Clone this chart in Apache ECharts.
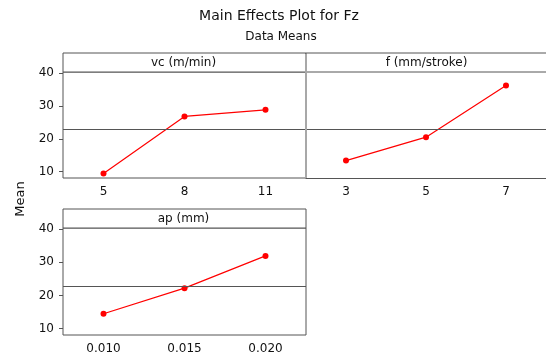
<!DOCTYPE html>
<html>
<head>
<meta charset="utf-8">
<script src="https://cdn.jsdelivr.net/npm/echarts@6/dist/echarts.min.js"></script>
<style>
  html, body { margin: 0; padding: 0; background: #fff; }
  #chart { width: 546px; height: 358px; }
</style>
</head>
<body>
<div id="chart"></div>
<script>
// factor levels and their data means
const vcLevels = ['5', '8', '11'];
const vcMeans = [9.5, 26.8, 28.8];
const fLevels = ['3', '5', '7'];
const fMeans = [13.4, 20.5, 36.2];
const apLevels = ['0.010', '0.015', '0.020'];
const apMeans = [14.5, 22.2, 31.9];
const grandMean = 22.8;
const yTicks = [10, 20, 30, 40];
const panelTitles = ['vc (m/min)', 'f (mm/stroke)', 'ap (mm)'];

const font = 'DejaVu Sans';
const frame = '#555';

const panels = [
  { left: 63, top: 72, width: 243, height: 106, cats: vcLevels, vals: vcMeans, showY: true, box: true },
  { left: 306, top: 72, width: 243, height: 106, cats: fLevels, vals: fMeans, showY: false, box: false },
  { left: 63, top: 228, width: 243, height: 107, cats: apLevels, vals: apMeans, showY: true, box: true },
];

const chart = echarts.init(document.getElementById('chart'));

const headerH = 19;
const graphic = [
  { type: 'text', x: 279, y: 16, style: { text: 'Main Effects Plot for Fz', font: '14px "' + font + '"', fill: '#111', align: 'center', verticalAlign: 'middle' } },
  { type: 'text', x: 281, y: 37, style: { text: 'Data Means', font: '12px "' + font + '"', fill: '#111', align: 'center', verticalAlign: 'middle' } },
  { type: 'text', x: 21, y: 199, rotation: Math.PI / 2, style: { text: 'Mean', font: '13px "' + font + '"', fill: '#111', align: 'center', verticalAlign: 'middle' } },
];
panels.forEach((p, i) => {
  graphic.push({
    type: 'rect', z: 10,
    shape: { x: p.left, y: p.top - headerH, width: p.box ? p.width : p.width + 20, height: headerH },
    style: { fill: '#fff', stroke: frame, lineWidth: 1 }
  });
  graphic.push({
    type: 'text', z: 11, x: p.left + p.width / 2 - 1, y: p.top - headerH / 2,
    style: { text: panelTitles[i], font: '12px "' + font + '"', fill: '#111', align: 'center', verticalAlign: 'middle' }
  });
});
// lighter divider between the two top panels
graphic.push({ type: 'line', z: 12, shape: { x1: 306, y1: 54, x2: 306, y2: 178 }, style: { stroke: '#a8a8a8', lineWidth: 2 } });

chart.setOption({
  animation: false,
  textStyle: { fontFamily: font },
  graphic: graphic,
  grid: panels.map(p => ({
    left: p.left, top: p.top, width: p.width, height: p.height,
    show: p.box, borderColor: frame, borderWidth: 1, backgroundColor: '#fff'
  })),
  xAxis: panels.map((p, i) => ({
    type: 'category', gridIndex: i, data: p.cats, boundaryGap: true,
    axisLine: { show: !p.box, lineStyle: { color: frame, width: 1 } },
    axisTick: { alignWithLabel: true, length: 4, lineStyle: { color: frame } },
    axisLabel: { color: '#111', fontSize: 12, margin: 8, fontFamily: font },
    splitLine: { show: false }
  })),
  yAxis: panels.map((p, i) => ({
    type: 'value', gridIndex: i, min: 8.1, max: 40.3,
    axisLine: { show: false },
    axisTick: { show: p.showY, length: 4, customValues: yTicks, lineStyle: { color: frame } },
    axisLabel: { show: p.showY, customValues: yTicks, color: '#111', fontSize: 12, margin: 9, fontFamily: font },
    splitLine: { show: false }
  })),
  series: panels.map((p, i) => ({
    type: 'line', xAxisIndex: i, yAxisIndex: i, data: p.vals,
    symbol: 'circle', symbolSize: 6,
    itemStyle: { color: '#ff0000' },
    lineStyle: { color: '#ff0000', width: 1.2 },
    markLine: {
      silent: true, symbol: 'none', label: { show: false },
      lineStyle: { color: frame, type: 'solid', width: 1 },
      data: [{ yAxis: grandMean }]
    }
  }))
});
</script>
</body>
</html>
